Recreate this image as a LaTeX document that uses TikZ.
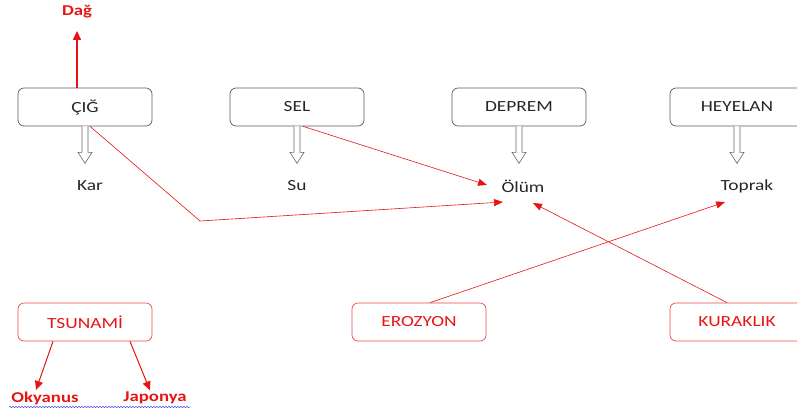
\documentclass[tikz,border=0pt]{standalone}
\usepackage{fontspec}
\setmainfont{Carlito}
\newfontfamily\wide[FakeStretch=1.25]{Carlito}
\usetikzlibrary{calc,arrows.meta,decorations.pathmorphing}
\definecolor{rd}{RGB}{232,20,20}
\definecolor{bx}{RGB}{90,90,90}
\definecolor{sq}{RGB}{80,80,220}
\tikzset{
  box/.style={draw=bx, line width=0.7pt, rounded corners=6pt, minimum width=134pt, minimum height=38pt, font=\wide\fontsize{15.5}{17}\selectfont, text=black!85},
  rbox/.style={box, draw=rd!80, text=rd},
  lbl/.style={font=\wide\fontsize{15.5}{17}\selectfont, text=black!85},
  rlbl/.style={font=\wide\bfseries\fontsize{15}{17}\selectfont, text=rd},
  thin red/.style={draw=rd, line width=0.6pt, -{Triangle[length=9pt,width=7pt]}},
  thick red/.style={draw=rd, line width=1.3pt, -{Triangle[length=9pt,width=8pt]}},
  hollow/.style={draw=black!60, fill=white, line width=0.6pt, line join=miter}
}
\newcommand\hollowarrow[1]{%
  \draw[hollow] ($(#1.south)+(-3,0)$) -- ++(0,26) -- ++(-4,0) -- ++(7,11) -- ++(7,-11) -- ++(-4,0) -- ++(0,-26);}
\begin{document}
\begin{tikzpicture}[x=1pt,y=-1pt]
\useasboundingbox (0,0) rectangle (797,413);
% top boxes
\node[box] (cig) at (85,107) {ÇIĞ};
\node[box] (sel) at (297,107) {SEL};
\node[box] (dep) at (519,107) {DEPREM};
\node[box] (hey) at (737,107) {HEYELAN};
% labels
\node[lbl] (kar) at (90,186) {Kar};
\node[lbl] (su) at (297,186) {Su};
\node[lbl] (olum) at (523,186) {Ölüm};
\node[lbl] (toprak) at (747,186) {Toprak};
\node[rlbl] (dag) at (77,12) {Dağ};
% hollow arrows
\hollowarrow{cig}
\hollowarrow{sel}
\hollowarrow{dep}
\hollowarrow{hey}
% Dağ arrow
\coordinate (dagtip) at ($(dag.south)+(0,9)$);
\draw[thick red] (cig.north -| dagtip) -- (dagtip);
% bottom boxes
\node[rbox] (tsu) at (85,322) {TSUNAMİ};
\node[rbox] (ero) at (419,322) {EROZYON};
\node[rbox] (kur) at (737,322) {KURAKLIK};
\node[rlbl] (oky) at (45,398) {Okyanus};
\node[rlbl] (jap) at (155,398) {Japonya};
% connectors
\coordinate (bend) at (200,221);
\draw[thin red] ($(cig.south)+(5,0)$) -- (bend) -- ($(olum)+(-20,16)$);
\draw[thin red] ($(sel.south)+(6,0)$) -- ($(olum)+(-36,-1)$);
\draw[thin red] ($(kur.north)+(-10,0)$) -- ($(olum)+(10,17)$);
\draw[thin red] ($(ero.north)+(11,0)$) -- ($(toprak)+(-22,16)$);
\draw[thick red, line width=1pt] ($(tsu.south)+(-32,0)$) -- ($(oky.north)+(-9,2)$);
\draw[thick red, line width=1pt] ($(tsu.south)+(45,0)$) -- ($(jap.north)+(-5,2)$);
% spell-check squiggle
\draw[sq, line width=0.5pt, decorate, decoration={snake, amplitude=0.8pt, segment length=3pt}] (9,407) -- (190,407);
\end{tikzpicture}
\end{document}
